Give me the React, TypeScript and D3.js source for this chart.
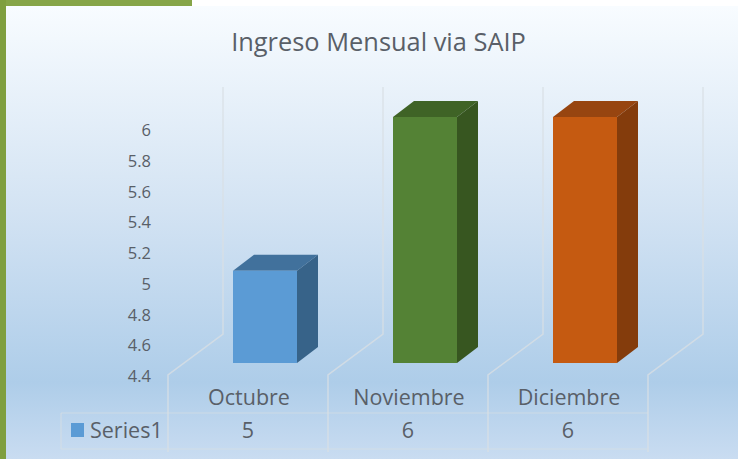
import * as d3 from "d3";
import React, { useEffect, useRef } from "react";

const categories = ["Octubre", "Noviembre", "Diciembre"];
const values = [5, 6, 6];
const yTicks = [4.4, 4.6, 4.8, 5, 5.2, 5.4, 5.6, 5.8, 6];
const seriesName = "Series1";
const titleText = "Ingreso Mensual via SAIP";

const frontColors = ["#5b9bd5", "#548235", "#c55a11"];
const topColors = ["#41719c", "#3f6326", "#974510"];
const sideColors = ["#376389", "#375620", "#843c0c"];

const width = 738;
const height = 459;
const textColor = "#595f68";
const gridColor = "#d8dfe4";
const FONT = "'Open Sans', sans-serif";

export default function App() {
  const ref = useRef<SVGSVGElement>(null);

  useEffect(() => {
    const svg = d3.select(ref.current);
    svg.selectAll("*").remove();

    // background
    const grad = svg.append("defs").append("linearGradient")
      .attr("id", "bg").attr("x1", 0).attr("x2", 0).attr("y1", 0).attr("y2", 1);
    [["0%", "#f8fcff"], ["45%", "#d3e3f3"], ["83%", "#aecde9"], ["100%", "#c9dcf1"]].forEach(([o, c]) => {
      grad.append("stop").attr("offset", o).attr("stop-color", c);
    });

    svg.append("rect").attr("width", width).attr("height", height).attr("fill", "#fff");
    svg.append("rect").attr("x", 0).attr("y", 0).attr("width", 192).attr("height", 6).attr("fill", "#86a548");
    svg.append("rect").attr("x", 0).attr("y", 0).attr("width", 6).attr("height", height).attr("fill", "#7f9f3f");
    svg.append("rect").attr("x", 6).attr("y", 6).attr("width", width - 6).attr("height", height - 6).attr("fill", "url(#bg)");

    svg.append("text")
      .attr("x", 378.5).attr("y", 51)
      .attr("text-anchor", "middle")
      .attr("font-family", FONT).attr("font-size", 25.4)
      .attr("fill", textColor)
      .text(titleText);

    const x = d3.scaleBand().domain(categories).range([168, 648]).paddingInner(0.6).paddingOuter(0.3);
    const y = d3.scaleLinear().domain([4.4, 6]).range([363, 117]);

    const barShift = 17; // bars sit further back than the category slots
    const depthX = 21;
    const depthY = -16;
    const step = x.step();
    const wallX = 55;
    const wallY = -41;
    const floorY = 375;
    const wallTop = 87;
    const tableTop = 413;
    const tableBottom = 449;
    const tableLeft = 61;

    // floor + wall gridlines, one per category edge
    const line = d3.line();
    const edges = [0, 1, 2, 3].map((i) => 168 + i * step);
    edges.forEach((ex) => {
      svg.append("path")
        .attr("d", line([[ex + wallX, wallTop], [ex + wallX, floorY + wallY], [ex, floorY], [ex, tableBottom + 3]]))
        .attr("fill", "none").attr("stroke", gridColor).attr("stroke-width", 1.5).attr("opacity", 0.8);
    });

    // data table rules
    [tableTop, tableBottom].forEach((ty) => {
      svg.append("line")
        .attr("x1", tableLeft).attr("x2", edges[3]).attr("y1", ty).attr("y2", ty)
        .attr("stroke", gridColor).attr("stroke-width", 1.2).attr("opacity", 0.7);
    });
    svg.append("line")
      .attr("x1", tableLeft).attr("x2", tableLeft).attr("y1", tableTop).attr("y2", tableBottom)
      .attr("stroke", gridColor).attr("stroke-width", 1.2).attr("opacity", 0.7);

    // y axis labels
    svg.append("g").selectAll("text").data(yTicks).join("text")
      .attr("x", 151)
      .attr("y", (d) => y(d) + 19)
      .attr("text-anchor", "end")
      .attr("font-family", FONT).attr("font-size", 16.5)
      .attr("fill", textColor)
      .text((d) => String(d));

    // 3d bars
    const bars = svg.append("g").selectAll("g").data(categories).join("g");
    bars.each(function (c, i) {
      const g = d3.select(this);
      const x0 = (x(c) as number) + barShift;
      const x1 = x0 + x.bandwidth();
      const yTop = y(values[i]);
      const yBase = y(4.4);
      g.append("path")
        .attr("d", line([[x0, yTop], [x0 + depthX, yTop + depthY], [x1 + depthX, yTop + depthY], [x1, yTop]]) + "Z")
        .attr("fill", topColors[i]);
      g.append("path")
        .attr("d", line([[x1, yTop], [x1 + depthX, yTop + depthY], [x1 + depthX, yBase + depthY], [x1, yBase]]) + "Z")
        .attr("fill", sideColors[i]);
      g.append("rect")
        .attr("x", x0).attr("y", yTop)
        .attr("width", x.bandwidth()).attr("height", yBase - yTop)
        .attr("fill", frontColors[i]);
    });

    // category labels
    svg.append("g").selectAll("text").data(categories).join("text")
      .attr("x", (c) => (x(c) as number) + x.bandwidth() / 2 + 1)
      .attr("y", 405)
      .attr("text-anchor", "middle")
      .attr("font-family", FONT).attr("font-size", 21.5)
      .attr("fill", textColor)
      .text((c) => c);

    // data table values
    svg.append("g").selectAll("text").data(values).join("text")
      .attr("x", (_, i) => (x(categories[i]) as number) + x.bandwidth() / 2)
      .attr("y", 437.5)
      .attr("text-anchor", "middle")
      .attr("font-family", FONT).attr("font-size", 21.5)
      .attr("fill", textColor)
      .text((d) => String(d));

    // legend key
    svg.append("rect").attr("x", 71).attr("y", 423).attr("width", 13).attr("height", 14).attr("fill", frontColors[0]);
    svg.append("text")
      .attr("x", 90).attr("y", 437.5)
      .attr("font-family", FONT).attr("font-size", 21.5)
      .attr("fill", textColor)
      .text(seriesName);
  }, []);

  return (
    <svg
      ref={ref}
      width={width}
      height={height}
      style={{ position: "fixed", left: 0, top: 0, display: "block" }}
    />
  );
}
